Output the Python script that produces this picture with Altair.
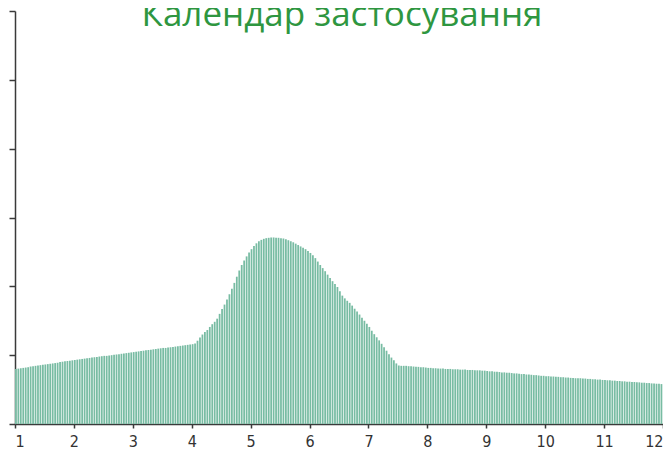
import altair as alt
import pandas as pd

# Heights (% of the y scale) of each bar, 24 bars per month, months 1..11
m1 = [16.0,16.1,16.2,16.3,16.4,16.5,16.7,16.8,16.9,17.0,17.1,17.2,17.3,17.4,17.5,17.6,17.7,17.8,18.0,18.1,18.2,18.3,18.4,18.5]
m2 = [18.6,18.7,18.8,18.9,19.0,19.1,19.2,19.3,19.4,19.5,19.6,19.7,19.8,19.8,19.9,20.0,20.1,20.2,20.3,20.4,20.5,20.6,20.7,20.8]
m3 = [20.9,21.0,21.1,21.2,21.3,21.4,21.5,21.6,21.7,21.8,21.9,22.0,22.1,22.1,22.2,22.3,22.4,22.5,22.6,22.7,22.8,22.9,23.0,23.1]
m4 = [23.2,23.4,24.2,25.1,26.0,26.7,27.3,28.2,29.0,29.7,30.6,32.0,33.4,34.7,36.2,37.7,39.3,41.0,42.8,44.6,46.2,47.5,48.7,49.8]
m5 = [50.8,51.7,52.5,53.1,53.5,53.8,54.0,54.1,54.2,54.2,54.1,54.1,54.0,53.9,53.7,53.4,53.1,52.8,52.4,52.0,51.6,51.2,50.8,50.3]
m6 = [49.7,49.0,48.2,47.2,46.2,45.3,44.4,43.4,42.4,41.5,40.7,39.8,38.6,37.3,36.5,35.8,35.2,34.4,33.5,32.7,31.8,30.9,30.0,29.1]
m7 = [28.2,27.1,26.1,25.2,24.3,23.3,22.3,21.3,20.3,19.3,18.5,17.6,17.0,16.9,16.9,16.9,16.8,16.8,16.7,16.6,16.6,16.5,16.5,16.4]
m8 = [16.3,16.3,16.2,16.2,16.1,16.1,16.1,16.0,16.0,16.0,15.9,15.9,15.9,15.8,15.8,15.8,15.7,15.7,15.7,15.6,15.6,15.6,15.5,15.5]
m9 = [15.4,15.3,15.3,15.2,15.2,15.1,15.0,15.0,14.9,14.9,14.8,14.7,14.7,14.6,14.5,14.5,14.4,14.4,14.3,14.2,14.2,14.1,14.0,14.0]
m10 = [13.9,13.9,13.8,13.8,13.7,13.7,13.6,13.6,13.5,13.5,13.4,13.4,13.3,13.3,13.3,13.2,13.2,13.1,13.1,13.0,13.0,12.9,12.9,12.8]
m11 = [12.8,12.7,12.7,12.6,12.6,12.5,12.5,12.4,12.4,12.3,12.3,12.2,12.2,12.1,12.1,12.0,12.0,11.9,11.9,11.8,11.8,11.7,11.7,11.6]

months = [1, 2, 3, 4, 5, 6, 7, 8, 9, 10, 11]
month_values = [m1, m2, m3, m4, m5, m6, m7, m8, m9, m10, m11]
bars_per_month = 24
y_ticks = [0, 20, 40, 60, 80, 100, 120]
x_ticks = [1, 2, 3, 4, 5, 6, 7, 8, 9, 10, 11, 12]
title_text = "Календар застосування"

rows = []
for m, vals in zip(months, month_values):
    for i, v in enumerate(vals):
        rows.append({"idx": i, "month": m, "value": v})
df = pd.DataFrame(rows)

label_font = "'Liberation Sans Narrow', 'DejaVu Sans Condensed', 'Liberation Sans', sans-serif"

bars = (
    alt.Chart(df)
    .transform_calculate(
        start=f"datum.month + datum.idx / {bars_per_month}",
        end=f"datum.month + (datum.idx + 0.72) / {bars_per_month}",
    )
    .mark_bar(color="#78bca3", opacity=1)
    .encode(
        x=alt.X(
            "start:Q",
            scale=alt.Scale(domain=[1, 12], nice=False, zero=False),
            axis=alt.Axis(
                values=x_ticks,
                title=None,
                grid=False,
                domainColor="#3a3a3a",
                domainWidth=1.5,
                tickColor="#3a3a3a",
                tickWidth=1.5,
                tickSize=4,
                labelFont=label_font,
                labelFontSize=16,
                labelColor="#333333",
                labelPadding=5,
                format="d",
            ),
        ),
        x2="end:Q",
        y=alt.Y(
            "value:Q",
            scale=alt.Scale(domain=[0, 120], nice=False),
            axis=alt.Axis(
                values=y_ticks,
                title=None,
                grid=False,
                labels=False,
                domainColor="#3a3a3a",
                domainWidth=1.5,
                tickColor="#3a3a3a",
                tickWidth=1.5,
                tickSize=6,
            ),
        ),
        y2=alt.datum(0),
    )
)

title = (
    alt.Chart(pd.DataFrame({"t": [title_text]}))
    .mark_text(
        font="Open Sans",
        fontSize=35,
        color="#2e9640",
        align="center",
        baseline="alphabetic",
    )
    .encode(text="t:N", x=alt.value(327), y=alt.value(15))
)

chart = (
    alt.layer(bars, title)
    .properties(
        width=648,
        height=413,
        autosize=alt.AutoSizeParams(type="none"),
        padding={"left": 7, "top": 3, "right": 0, "bottom": 25},
    )
    .configure_view(stroke=None)
)

chart.save("out.html", embed_options={"renderer": "svg", "actions": False})
